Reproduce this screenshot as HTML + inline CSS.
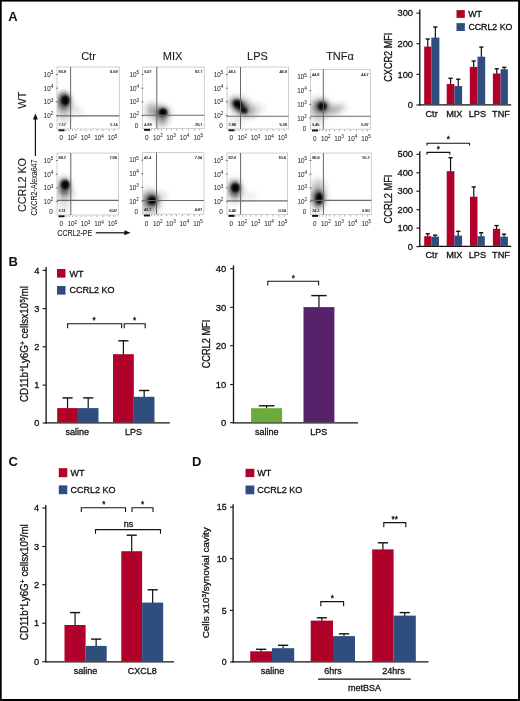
<!DOCTYPE html><html><head><meta charset="utf-8"><style>html,body{margin:0;padding:0;background:#fff;}body{width:520px;height:701px;overflow:hidden;}svg{display:block;}text{font-family:"Liberation Sans",sans-serif;}svg{will-change:transform;}</style></head><body>
<svg width="520" height="701" viewBox="0 0 520 701">
<defs><filter id="b1" x="-80%" y="-80%" width="260%" height="260%"><feGaussianBlur stdDeviation="1.3"/></filter><filter id="b2" x="-80%" y="-80%" width="260%" height="260%"><feGaussianBlur stdDeviation="2.2"/></filter><filter id="b3" x="-80%" y="-80%" width="260%" height="260%"><feGaussianBlur stdDeviation="3.2"/></filter></defs>
<rect x="0" y="0" width="520" height="701" fill="#fff"/>
<text x="8.3" y="21" font-size="13" font-weight="bold" fill="#111">A</text>
<text x="88.5" y="60" font-size="11" text-anchor="middle" fill="#1a1a1a" stroke="#1a1a1a" stroke-width="0.1">Ctr</text>
<text x="172.5" y="60" font-size="11" text-anchor="middle" fill="#1a1a1a" stroke="#1a1a1a" stroke-width="0.1">MIX</text>
<text x="257.5" y="60" font-size="11" text-anchor="middle" fill="#1a1a1a" stroke="#1a1a1a" stroke-width="0.1">LPS</text>
<text x="340" y="60" font-size="11" text-anchor="middle" fill="#1a1a1a" stroke="#1a1a1a" stroke-width="0.1">TNF&#945;</text>
<clipPath id="c1"><rect x="57" y="67" width="62.3" height="62"/></clipPath>
<g clip-path="url(#c1)">
<ellipse cx="64" cy="105" rx="8" ry="13" transform="rotate(0 64 105)" fill="#000" fill-opacity="0.25" filter="url(#b3)"/>
<ellipse cx="64" cy="101" rx="6.5" ry="9" transform="rotate(0 64 101)" fill="#000" fill-opacity="0.5" filter="url(#b2)"/>
<ellipse cx="65.3" cy="100.4" rx="4.2" ry="5" transform="rotate(0 65.3 100.4)" fill="#000" fill-opacity="0.95" filter="url(#b1)"/>
<ellipse cx="77" cy="110.5" rx="7" ry="3" transform="rotate(25 77 110.5)" fill="#000" fill-opacity="0.14" filter="url(#b3)"/>
<ellipse cx="64" cy="120" rx="6" ry="5" transform="rotate(0 64 120)" fill="#000" fill-opacity="0.08" filter="url(#b3)"/>
</g>
<rect x="57" y="67" width="62.3" height="62" fill="none" stroke="#c4c4c4" stroke-width="0.8"/>
<line x1="70.6" y1="67" x2="70.6" y2="129" stroke="#666" stroke-width="1.0"/>
<line x1="57" y1="115.9" x2="119.3" y2="115.9" stroke="#6a6a6a" stroke-width="1.1"/>
<line x1="55.8" y1="74.5" x2="57.8" y2="74.5" stroke="#555" stroke-width="0.8"/>
<line x1="55.8" y1="88.2" x2="57.8" y2="88.2" stroke="#555" stroke-width="0.8"/>
<line x1="55.8" y1="101.9" x2="57.8" y2="101.9" stroke="#555" stroke-width="0.8"/>
<line x1="55.8" y1="115.6" x2="57.8" y2="115.6" stroke="#555" stroke-width="0.8"/>
<line x1="58.5" y1="130.3" x2="64.5" y2="130.3" stroke="#111" stroke-width="1.9"/>
<line x1="66" y1="129.6" x2="66" y2="130.9" stroke="#888" stroke-width="0.8"/>
<line x1="69" y1="129.6" x2="69" y2="130.9" stroke="#888" stroke-width="0.8"/>
<line x1="72.5" y1="129.6" x2="72.5" y2="130.9" stroke="#888" stroke-width="0.8"/>
<line x1="76" y1="129.6" x2="76" y2="130.9" stroke="#888" stroke-width="0.8"/>
<line x1="81" y1="129.6" x2="81" y2="130.9" stroke="#888" stroke-width="0.8"/>
<line x1="86" y1="129.6" x2="86" y2="130.9" stroke="#888" stroke-width="0.8"/>
<line x1="91" y1="129.6" x2="91" y2="130.9" stroke="#888" stroke-width="0.8"/>
<line x1="97" y1="129.6" x2="97" y2="130.9" stroke="#888" stroke-width="0.8"/>
<line x1="103" y1="129.6" x2="103" y2="130.9" stroke="#888" stroke-width="0.8"/>
<line x1="109" y1="129.6" x2="109" y2="130.9" stroke="#888" stroke-width="0.8"/>
<line x1="114" y1="129.6" x2="114" y2="130.9" stroke="#888" stroke-width="0.8"/>
<text x="53.4" y="76.8" font-size="6.35" text-anchor="end" fill="#2a2a2a" stroke="#2a2a2a" stroke-width="0.04">10<tspan dy="-2.8" font-size="4.57">5</tspan></text>
<text x="53.4" y="90.6" font-size="6.35" text-anchor="end" fill="#2a2a2a" stroke="#2a2a2a" stroke-width="0.04">10<tspan dy="-2.8" font-size="4.57">4</tspan></text>
<text x="53.4" y="104.39999999999999" font-size="6.35" text-anchor="end" fill="#2a2a2a" stroke="#2a2a2a" stroke-width="0.04">10<tspan dy="-2.8" font-size="4.57">3</tspan></text>
<text x="53.4" y="118.2" font-size="6.35" text-anchor="end" fill="#2a2a2a" stroke="#2a2a2a" stroke-width="0.04">10<tspan dy="-2.8" font-size="4.57">2</tspan></text>
<text x="52.7" y="128.3" font-size="6.35" text-anchor="end" fill="#2a2a2a" stroke="#2a2a2a" stroke-width="0.04">0</text>
<text x="61.2" y="140.3" font-size="6.35" text-anchor="middle" fill="#2a2a2a" stroke="#2a2a2a" stroke-width="0.04">0</text>
<text x="72.3" y="140.3" font-size="6.35" text-anchor="middle" fill="#2a2a2a" stroke="#2a2a2a" stroke-width="0.04">10<tspan dy="-2.8" font-size="4.57">2</tspan></text>
<text x="85.5" y="140.3" font-size="6.35" text-anchor="middle" fill="#2a2a2a" stroke="#2a2a2a" stroke-width="0.04">10<tspan dy="-2.8" font-size="4.57">3</tspan></text>
<text x="99.0" y="140.3" font-size="6.35" text-anchor="middle" fill="#2a2a2a" stroke="#2a2a2a" stroke-width="0.04">10<tspan dy="-2.8" font-size="4.57">4</tspan></text>
<text x="112.6" y="140.3" font-size="6.35" text-anchor="middle" fill="#2a2a2a" stroke="#2a2a2a" stroke-width="0.04">10<tspan dy="-2.8" font-size="4.57">5</tspan></text>
<text x="58.6" y="73.2" font-size="3.8" fill="#222" stroke="#222" stroke-width="0.15">93.9</text>
<text x="117.5" y="73.2" font-size="3.8" text-anchor="end" fill="#222" stroke="#222" stroke-width="0.15">0.59</text>
<text x="58.6" y="126.0" font-size="3.8" fill="#222" stroke="#222" stroke-width="0.15">7.17</text>
<text x="117.5" y="126.0" font-size="3.8" text-anchor="end" fill="#222" stroke="#222" stroke-width="0.15">1.14</text>
<clipPath id="c2"><rect x="57" y="153" width="61.599999999999994" height="62"/></clipPath>
<g clip-path="url(#c2)">
<ellipse cx="64" cy="190" rx="7" ry="13" transform="rotate(0 64 190)" fill="#000" fill-opacity="0.26" filter="url(#b3)"/>
<ellipse cx="64.5" cy="187" rx="5.5" ry="8.5" transform="rotate(0 64.5 187)" fill="#000" fill-opacity="0.5" filter="url(#b2)"/>
<ellipse cx="65.3" cy="184.8" rx="4.2" ry="4.6" transform="rotate(0 65.3 184.8)" fill="#000" fill-opacity="0.95" filter="url(#b1)"/>
<ellipse cx="72" cy="194" rx="2.5" ry="5" transform="rotate(0 72 194)" fill="#000" fill-opacity="0.12" filter="url(#b3)"/>
<ellipse cx="64" cy="207" rx="6" ry="5" transform="rotate(0 64 207)" fill="#000" fill-opacity="0.08" filter="url(#b3)"/>
</g>
<rect x="57" y="153" width="61.599999999999994" height="62" fill="none" stroke="#c4c4c4" stroke-width="0.8"/>
<line x1="70.8" y1="153" x2="70.8" y2="215" stroke="#666" stroke-width="1.0"/>
<line x1="57" y1="200.4" x2="118.6" y2="200.4" stroke="#6a6a6a" stroke-width="1.1"/>
<line x1="55.8" y1="160.5" x2="57.8" y2="160.5" stroke="#555" stroke-width="0.8"/>
<line x1="55.8" y1="174.2" x2="57.8" y2="174.2" stroke="#555" stroke-width="0.8"/>
<line x1="55.8" y1="187.9" x2="57.8" y2="187.9" stroke="#555" stroke-width="0.8"/>
<line x1="55.8" y1="201.6" x2="57.8" y2="201.6" stroke="#555" stroke-width="0.8"/>
<line x1="58.5" y1="216.3" x2="64.5" y2="216.3" stroke="#111" stroke-width="1.9"/>
<line x1="66" y1="215.6" x2="66" y2="216.9" stroke="#888" stroke-width="0.8"/>
<line x1="69" y1="215.6" x2="69" y2="216.9" stroke="#888" stroke-width="0.8"/>
<line x1="72.5" y1="215.6" x2="72.5" y2="216.9" stroke="#888" stroke-width="0.8"/>
<line x1="76" y1="215.6" x2="76" y2="216.9" stroke="#888" stroke-width="0.8"/>
<line x1="81" y1="215.6" x2="81" y2="216.9" stroke="#888" stroke-width="0.8"/>
<line x1="86" y1="215.6" x2="86" y2="216.9" stroke="#888" stroke-width="0.8"/>
<line x1="91" y1="215.6" x2="91" y2="216.9" stroke="#888" stroke-width="0.8"/>
<line x1="97" y1="215.6" x2="97" y2="216.9" stroke="#888" stroke-width="0.8"/>
<line x1="103" y1="215.6" x2="103" y2="216.9" stroke="#888" stroke-width="0.8"/>
<line x1="109" y1="215.6" x2="109" y2="216.9" stroke="#888" stroke-width="0.8"/>
<line x1="114" y1="215.6" x2="114" y2="216.9" stroke="#888" stroke-width="0.8"/>
<text x="53.4" y="162.8" font-size="6.35" text-anchor="end" fill="#2a2a2a" stroke="#2a2a2a" stroke-width="0.04">10<tspan dy="-2.8" font-size="4.57">5</tspan></text>
<text x="53.4" y="176.60000000000002" font-size="6.35" text-anchor="end" fill="#2a2a2a" stroke="#2a2a2a" stroke-width="0.04">10<tspan dy="-2.8" font-size="4.57">4</tspan></text>
<text x="53.4" y="190.4" font-size="6.35" text-anchor="end" fill="#2a2a2a" stroke="#2a2a2a" stroke-width="0.04">10<tspan dy="-2.8" font-size="4.57">3</tspan></text>
<text x="53.4" y="204.20000000000002" font-size="6.35" text-anchor="end" fill="#2a2a2a" stroke="#2a2a2a" stroke-width="0.04">10<tspan dy="-2.8" font-size="4.57">2</tspan></text>
<text x="52.7" y="214.3" font-size="6.35" text-anchor="end" fill="#2a2a2a" stroke="#2a2a2a" stroke-width="0.04">0</text>
<text x="61.2" y="226.3" font-size="6.35" text-anchor="middle" fill="#2a2a2a" stroke="#2a2a2a" stroke-width="0.04">0</text>
<text x="72.3" y="226.3" font-size="6.35" text-anchor="middle" fill="#2a2a2a" stroke="#2a2a2a" stroke-width="0.04">10<tspan dy="-2.8" font-size="4.57">2</tspan></text>
<text x="85.5" y="226.3" font-size="6.35" text-anchor="middle" fill="#2a2a2a" stroke="#2a2a2a" stroke-width="0.04">10<tspan dy="-2.8" font-size="4.57">3</tspan></text>
<text x="99.0" y="226.3" font-size="6.35" text-anchor="middle" fill="#2a2a2a" stroke="#2a2a2a" stroke-width="0.04">10<tspan dy="-2.8" font-size="4.57">4</tspan></text>
<text x="112.6" y="226.3" font-size="6.35" text-anchor="middle" fill="#2a2a2a" stroke="#2a2a2a" stroke-width="0.04">10<tspan dy="-2.8" font-size="4.57">5</tspan></text>
<text x="58.6" y="159.2" font-size="3.8" fill="#222" stroke="#222" stroke-width="0.15">88.2</text>
<text x="116.8" y="159.2" font-size="3.8" text-anchor="end" fill="#222" stroke="#222" stroke-width="0.15">7.89</text>
<text x="58.6" y="212.0" font-size="3.8" fill="#222" stroke="#222" stroke-width="0.15">3.11</text>
<text x="116.8" y="212.0" font-size="3.8" text-anchor="end" fill="#222" stroke="#222" stroke-width="0.15">6.02</text>
<clipPath id="c3"><rect x="142.6" y="67" width="61.70000000000002" height="61.599999999999994"/></clipPath>
<g clip-path="url(#c3)">
<ellipse cx="161" cy="114" rx="10" ry="10" transform="rotate(0 161 114)" fill="#000" fill-opacity="0.15" filter="url(#b3)"/>
<ellipse cx="162.3" cy="112.8" rx="6.5" ry="6" transform="rotate(0 162.3 112.8)" fill="#000" fill-opacity="0.5" filter="url(#b2)"/>
<ellipse cx="163" cy="112.3" rx="4" ry="3.8" transform="rotate(0 163 112.3)" fill="#000" fill-opacity="0.95" filter="url(#b1)"/>
<ellipse cx="151.5" cy="110" rx="5.5" ry="7" transform="rotate(0 151.5 110)" fill="#000" fill-opacity="0.32" filter="url(#b3)"/>
<ellipse cx="162" cy="120.5" rx="5" ry="6" transform="rotate(0 162 120.5)" fill="#000" fill-opacity="0.3" filter="url(#b3)"/>
</g>
<rect x="142.6" y="67" width="61.70000000000002" height="61.599999999999994" fill="none" stroke="#c4c4c4" stroke-width="0.8"/>
<line x1="156.8" y1="67" x2="156.8" y2="128.6" stroke="#666" stroke-width="1.0"/>
<line x1="142.6" y1="115.3" x2="204.3" y2="115.3" stroke="#6a6a6a" stroke-width="1.1"/>
<line x1="141.4" y1="74.5" x2="143.4" y2="74.5" stroke="#555" stroke-width="0.8"/>
<line x1="141.4" y1="88.2" x2="143.4" y2="88.2" stroke="#555" stroke-width="0.8"/>
<line x1="141.4" y1="101.9" x2="143.4" y2="101.9" stroke="#555" stroke-width="0.8"/>
<line x1="141.4" y1="115.6" x2="143.4" y2="115.6" stroke="#555" stroke-width="0.8"/>
<line x1="144.1" y1="129.9" x2="150.1" y2="129.9" stroke="#111" stroke-width="1.9"/>
<line x1="151.6" y1="129.2" x2="151.6" y2="130.5" stroke="#888" stroke-width="0.8"/>
<line x1="154.6" y1="129.2" x2="154.6" y2="130.5" stroke="#888" stroke-width="0.8"/>
<line x1="158.1" y1="129.2" x2="158.1" y2="130.5" stroke="#888" stroke-width="0.8"/>
<line x1="161.6" y1="129.2" x2="161.6" y2="130.5" stroke="#888" stroke-width="0.8"/>
<line x1="166.6" y1="129.2" x2="166.6" y2="130.5" stroke="#888" stroke-width="0.8"/>
<line x1="171.6" y1="129.2" x2="171.6" y2="130.5" stroke="#888" stroke-width="0.8"/>
<line x1="176.6" y1="129.2" x2="176.6" y2="130.5" stroke="#888" stroke-width="0.8"/>
<line x1="182.6" y1="129.2" x2="182.6" y2="130.5" stroke="#888" stroke-width="0.8"/>
<line x1="188.6" y1="129.2" x2="188.6" y2="130.5" stroke="#888" stroke-width="0.8"/>
<line x1="194.6" y1="129.2" x2="194.6" y2="130.5" stroke="#888" stroke-width="0.8"/>
<line x1="199.6" y1="129.2" x2="199.6" y2="130.5" stroke="#888" stroke-width="0.8"/>
<text x="139.0" y="76.8" font-size="6.35" text-anchor="end" fill="#2a2a2a" stroke="#2a2a2a" stroke-width="0.04">10<tspan dy="-2.8" font-size="4.57">5</tspan></text>
<text x="139.0" y="90.6" font-size="6.35" text-anchor="end" fill="#2a2a2a" stroke="#2a2a2a" stroke-width="0.04">10<tspan dy="-2.8" font-size="4.57">4</tspan></text>
<text x="139.0" y="104.39999999999999" font-size="6.35" text-anchor="end" fill="#2a2a2a" stroke="#2a2a2a" stroke-width="0.04">10<tspan dy="-2.8" font-size="4.57">3</tspan></text>
<text x="139.0" y="118.2" font-size="6.35" text-anchor="end" fill="#2a2a2a" stroke="#2a2a2a" stroke-width="0.04">10<tspan dy="-2.8" font-size="4.57">2</tspan></text>
<text x="138.29999999999998" y="128.3" font-size="6.35" text-anchor="end" fill="#2a2a2a" stroke="#2a2a2a" stroke-width="0.04">0</text>
<text x="146.79999999999998" y="139.9" font-size="6.35" text-anchor="middle" fill="#2a2a2a" stroke="#2a2a2a" stroke-width="0.04">0</text>
<text x="157.9" y="139.9" font-size="6.35" text-anchor="middle" fill="#2a2a2a" stroke="#2a2a2a" stroke-width="0.04">10<tspan dy="-2.8" font-size="4.57">2</tspan></text>
<text x="171.1" y="139.9" font-size="6.35" text-anchor="middle" fill="#2a2a2a" stroke="#2a2a2a" stroke-width="0.04">10<tspan dy="-2.8" font-size="4.57">3</tspan></text>
<text x="184.6" y="139.9" font-size="6.35" text-anchor="middle" fill="#2a2a2a" stroke="#2a2a2a" stroke-width="0.04">10<tspan dy="-2.8" font-size="4.57">4</tspan></text>
<text x="198.2" y="139.9" font-size="6.35" text-anchor="middle" fill="#2a2a2a" stroke="#2a2a2a" stroke-width="0.04">10<tspan dy="-2.8" font-size="4.57">5</tspan></text>
<text x="144.2" y="73.2" font-size="3.8" fill="#222" stroke="#222" stroke-width="0.15">5.07</text>
<text x="202.5" y="73.2" font-size="3.8" text-anchor="end" fill="#222" stroke="#222" stroke-width="0.15">92.7</text>
<text x="144.2" y="125.6" font-size="3.8" fill="#222" stroke="#222" stroke-width="0.15">4.89</text>
<text x="202.5" y="125.6" font-size="3.8" text-anchor="end" fill="#222" stroke="#222" stroke-width="0.15">20.1</text>
<clipPath id="c4"><rect x="142.4" y="152.6" width="61.5" height="61.599999999999994"/></clipPath>
<g clip-path="url(#c4)">
<ellipse cx="150" cy="202" rx="10" ry="13" transform="rotate(0 150 202)" fill="#000" fill-opacity="0.28" filter="url(#b3)"/>
<ellipse cx="151.5" cy="200.5" rx="7" ry="7" transform="rotate(0 151.5 200.5)" fill="#000" fill-opacity="0.5" filter="url(#b2)"/>
<ellipse cx="152.2" cy="200.4" rx="4.2" ry="4.2" transform="rotate(0 152.2 200.4)" fill="#000" fill-opacity="0.95" filter="url(#b1)"/>
<ellipse cx="162" cy="196.5" rx="6" ry="3.5" transform="rotate(0 162 196.5)" fill="#000" fill-opacity="0.14" filter="url(#b3)"/>
</g>
<rect x="142.4" y="152.6" width="61.5" height="61.599999999999994" fill="none" stroke="#c4c4c4" stroke-width="0.8"/>
<line x1="156.5" y1="152.6" x2="156.5" y2="214.2" stroke="#666" stroke-width="1.0"/>
<line x1="142.4" y1="200.5" x2="203.9" y2="200.5" stroke="#6a6a6a" stroke-width="1.1"/>
<line x1="141.20000000000002" y1="160.1" x2="143.20000000000002" y2="160.1" stroke="#555" stroke-width="0.8"/>
<line x1="141.20000000000002" y1="173.79999999999998" x2="143.20000000000002" y2="173.79999999999998" stroke="#555" stroke-width="0.8"/>
<line x1="141.20000000000002" y1="187.5" x2="143.20000000000002" y2="187.5" stroke="#555" stroke-width="0.8"/>
<line x1="141.20000000000002" y1="201.2" x2="143.20000000000002" y2="201.2" stroke="#555" stroke-width="0.8"/>
<line x1="143.9" y1="215.5" x2="149.9" y2="215.5" stroke="#111" stroke-width="1.9"/>
<line x1="151.4" y1="214.79999999999998" x2="151.4" y2="216.1" stroke="#888" stroke-width="0.8"/>
<line x1="154.4" y1="214.79999999999998" x2="154.4" y2="216.1" stroke="#888" stroke-width="0.8"/>
<line x1="157.9" y1="214.79999999999998" x2="157.9" y2="216.1" stroke="#888" stroke-width="0.8"/>
<line x1="161.4" y1="214.79999999999998" x2="161.4" y2="216.1" stroke="#888" stroke-width="0.8"/>
<line x1="166.4" y1="214.79999999999998" x2="166.4" y2="216.1" stroke="#888" stroke-width="0.8"/>
<line x1="171.4" y1="214.79999999999998" x2="171.4" y2="216.1" stroke="#888" stroke-width="0.8"/>
<line x1="176.4" y1="214.79999999999998" x2="176.4" y2="216.1" stroke="#888" stroke-width="0.8"/>
<line x1="182.4" y1="214.79999999999998" x2="182.4" y2="216.1" stroke="#888" stroke-width="0.8"/>
<line x1="188.4" y1="214.79999999999998" x2="188.4" y2="216.1" stroke="#888" stroke-width="0.8"/>
<line x1="194.4" y1="214.79999999999998" x2="194.4" y2="216.1" stroke="#888" stroke-width="0.8"/>
<line x1="199.4" y1="214.79999999999998" x2="199.4" y2="216.1" stroke="#888" stroke-width="0.8"/>
<text x="138.8" y="162.4" font-size="6.35" text-anchor="end" fill="#2a2a2a" stroke="#2a2a2a" stroke-width="0.04">10<tspan dy="-2.8" font-size="4.57">5</tspan></text>
<text x="138.8" y="176.20000000000002" font-size="6.35" text-anchor="end" fill="#2a2a2a" stroke="#2a2a2a" stroke-width="0.04">10<tspan dy="-2.8" font-size="4.57">4</tspan></text>
<text x="138.8" y="190.0" font-size="6.35" text-anchor="end" fill="#2a2a2a" stroke="#2a2a2a" stroke-width="0.04">10<tspan dy="-2.8" font-size="4.57">3</tspan></text>
<text x="138.8" y="203.8" font-size="6.35" text-anchor="end" fill="#2a2a2a" stroke="#2a2a2a" stroke-width="0.04">10<tspan dy="-2.8" font-size="4.57">2</tspan></text>
<text x="138.1" y="213.9" font-size="6.35" text-anchor="end" fill="#2a2a2a" stroke="#2a2a2a" stroke-width="0.04">0</text>
<text x="146.6" y="225.5" font-size="6.35" text-anchor="middle" fill="#2a2a2a" stroke="#2a2a2a" stroke-width="0.04">0</text>
<text x="157.70000000000002" y="225.5" font-size="6.35" text-anchor="middle" fill="#2a2a2a" stroke="#2a2a2a" stroke-width="0.04">10<tspan dy="-2.8" font-size="4.57">2</tspan></text>
<text x="170.9" y="225.5" font-size="6.35" text-anchor="middle" fill="#2a2a2a" stroke="#2a2a2a" stroke-width="0.04">10<tspan dy="-2.8" font-size="4.57">3</tspan></text>
<text x="184.4" y="225.5" font-size="6.35" text-anchor="middle" fill="#2a2a2a" stroke="#2a2a2a" stroke-width="0.04">10<tspan dy="-2.8" font-size="4.57">4</tspan></text>
<text x="198.0" y="225.5" font-size="6.35" text-anchor="middle" fill="#2a2a2a" stroke="#2a2a2a" stroke-width="0.04">10<tspan dy="-2.8" font-size="4.57">5</tspan></text>
<text x="144.0" y="158.79999999999998" font-size="3.8" fill="#222" stroke="#222" stroke-width="0.15">42.4</text>
<text x="202.1" y="158.79999999999998" font-size="3.8" text-anchor="end" fill="#222" stroke="#222" stroke-width="0.15">7.34</text>
<text x="144.0" y="211.2" font-size="3.8" fill="#222" stroke="#222" stroke-width="0.15">43.7</text>
<text x="202.1" y="211.2" font-size="3.8" text-anchor="end" fill="#222" stroke="#222" stroke-width="0.15">4.97</text>
<clipPath id="c5"><rect x="227" y="67" width="61.60000000000002" height="62"/></clipPath>
<g clip-path="url(#c5)">
<ellipse cx="242" cy="107" rx="15" ry="8.5" transform="rotate(32 242 107)" fill="#000" fill-opacity="0.28" filter="url(#b3)"/>
<ellipse cx="240" cy="106.5" rx="9.5" ry="5.5" transform="rotate(38 240 106.5)" fill="#000" fill-opacity="0.6" filter="url(#b2)"/>
<ellipse cx="238" cy="104.3" rx="5" ry="3.8" transform="rotate(35 238 104.3)" fill="#000" fill-opacity="0.95" filter="url(#b1)"/>
<ellipse cx="243.8" cy="110.3" rx="3.6" ry="2.8" transform="rotate(38 243.8 110.3)" fill="#000" fill-opacity="0.85" filter="url(#b1)"/>
<ellipse cx="257" cy="109" rx="8" ry="3.5" transform="rotate(-10 257 109)" fill="#000" fill-opacity="0.14" filter="url(#b3)"/>
<ellipse cx="236" cy="122" rx="8" ry="6" transform="rotate(0 236 122)" fill="#000" fill-opacity="0.08" filter="url(#b3)"/>
</g>
<rect x="227" y="67" width="61.60000000000002" height="62" fill="none" stroke="#c4c4c4" stroke-width="0.8"/>
<line x1="240.5" y1="67" x2="240.5" y2="129" stroke="#666" stroke-width="1.0"/>
<line x1="227" y1="116.2" x2="288.6" y2="116.2" stroke="#6a6a6a" stroke-width="1.1"/>
<line x1="225.8" y1="74.5" x2="227.8" y2="74.5" stroke="#555" stroke-width="0.8"/>
<line x1="225.8" y1="88.2" x2="227.8" y2="88.2" stroke="#555" stroke-width="0.8"/>
<line x1="225.8" y1="101.9" x2="227.8" y2="101.9" stroke="#555" stroke-width="0.8"/>
<line x1="225.8" y1="115.6" x2="227.8" y2="115.6" stroke="#555" stroke-width="0.8"/>
<line x1="228.5" y1="130.3" x2="234.5" y2="130.3" stroke="#111" stroke-width="1.9"/>
<line x1="236" y1="129.6" x2="236" y2="130.9" stroke="#888" stroke-width="0.8"/>
<line x1="239" y1="129.6" x2="239" y2="130.9" stroke="#888" stroke-width="0.8"/>
<line x1="242.5" y1="129.6" x2="242.5" y2="130.9" stroke="#888" stroke-width="0.8"/>
<line x1="246" y1="129.6" x2="246" y2="130.9" stroke="#888" stroke-width="0.8"/>
<line x1="251" y1="129.6" x2="251" y2="130.9" stroke="#888" stroke-width="0.8"/>
<line x1="256" y1="129.6" x2="256" y2="130.9" stroke="#888" stroke-width="0.8"/>
<line x1="261" y1="129.6" x2="261" y2="130.9" stroke="#888" stroke-width="0.8"/>
<line x1="267" y1="129.6" x2="267" y2="130.9" stroke="#888" stroke-width="0.8"/>
<line x1="273" y1="129.6" x2="273" y2="130.9" stroke="#888" stroke-width="0.8"/>
<line x1="279" y1="129.6" x2="279" y2="130.9" stroke="#888" stroke-width="0.8"/>
<line x1="284" y1="129.6" x2="284" y2="130.9" stroke="#888" stroke-width="0.8"/>
<text x="223.4" y="76.8" font-size="6.35" text-anchor="end" fill="#2a2a2a" stroke="#2a2a2a" stroke-width="0.04">10<tspan dy="-2.8" font-size="4.57">5</tspan></text>
<text x="223.4" y="90.6" font-size="6.35" text-anchor="end" fill="#2a2a2a" stroke="#2a2a2a" stroke-width="0.04">10<tspan dy="-2.8" font-size="4.57">4</tspan></text>
<text x="223.4" y="104.39999999999999" font-size="6.35" text-anchor="end" fill="#2a2a2a" stroke="#2a2a2a" stroke-width="0.04">10<tspan dy="-2.8" font-size="4.57">3</tspan></text>
<text x="223.4" y="118.2" font-size="6.35" text-anchor="end" fill="#2a2a2a" stroke="#2a2a2a" stroke-width="0.04">10<tspan dy="-2.8" font-size="4.57">2</tspan></text>
<text x="222.7" y="128.3" font-size="6.35" text-anchor="end" fill="#2a2a2a" stroke="#2a2a2a" stroke-width="0.04">0</text>
<text x="231.2" y="140.3" font-size="6.35" text-anchor="middle" fill="#2a2a2a" stroke="#2a2a2a" stroke-width="0.04">0</text>
<text x="242.3" y="140.3" font-size="6.35" text-anchor="middle" fill="#2a2a2a" stroke="#2a2a2a" stroke-width="0.04">10<tspan dy="-2.8" font-size="4.57">2</tspan></text>
<text x="255.5" y="140.3" font-size="6.35" text-anchor="middle" fill="#2a2a2a" stroke="#2a2a2a" stroke-width="0.04">10<tspan dy="-2.8" font-size="4.57">3</tspan></text>
<text x="269.0" y="140.3" font-size="6.35" text-anchor="middle" fill="#2a2a2a" stroke="#2a2a2a" stroke-width="0.04">10<tspan dy="-2.8" font-size="4.57">4</tspan></text>
<text x="282.6" y="140.3" font-size="6.35" text-anchor="middle" fill="#2a2a2a" stroke="#2a2a2a" stroke-width="0.04">10<tspan dy="-2.8" font-size="4.57">5</tspan></text>
<text x="228.6" y="73.2" font-size="3.8" fill="#222" stroke="#222" stroke-width="0.15">46.1</text>
<text x="286.8" y="73.2" font-size="3.8" text-anchor="end" fill="#222" stroke="#222" stroke-width="0.15">46.8</text>
<text x="228.6" y="126.0" font-size="3.8" fill="#222" stroke="#222" stroke-width="0.15">2.96</text>
<text x="286.8" y="126.0" font-size="3.8" text-anchor="end" fill="#222" stroke="#222" stroke-width="0.15">5.39</text>
<clipPath id="c6"><rect x="227" y="153" width="60.60000000000002" height="61.599999999999994"/></clipPath>
<g clip-path="url(#c6)">
<ellipse cx="235" cy="191" rx="8" ry="12" transform="rotate(0 235 191)" fill="#000" fill-opacity="0.24" filter="url(#b3)"/>
<ellipse cx="234.8" cy="189" rx="6" ry="8" transform="rotate(0 234.8 189)" fill="#000" fill-opacity="0.5" filter="url(#b2)"/>
<ellipse cx="235.4" cy="187.8" rx="4.2" ry="4.6" transform="rotate(0 235.4 187.8)" fill="#000" fill-opacity="0.95" filter="url(#b1)"/>
<ellipse cx="251" cy="196" rx="6" ry="3" transform="rotate(0 251 196)" fill="#000" fill-opacity="0.1" filter="url(#b3)"/>
</g>
<rect x="227" y="153" width="60.60000000000002" height="61.599999999999994" fill="none" stroke="#c4c4c4" stroke-width="0.8"/>
<line x1="240.6" y1="153" x2="240.6" y2="214.6" stroke="#666" stroke-width="1.0"/>
<line x1="227" y1="200.9" x2="287.6" y2="200.9" stroke="#6a6a6a" stroke-width="1.1"/>
<line x1="225.8" y1="160.5" x2="227.8" y2="160.5" stroke="#555" stroke-width="0.8"/>
<line x1="225.8" y1="174.2" x2="227.8" y2="174.2" stroke="#555" stroke-width="0.8"/>
<line x1="225.8" y1="187.9" x2="227.8" y2="187.9" stroke="#555" stroke-width="0.8"/>
<line x1="225.8" y1="201.6" x2="227.8" y2="201.6" stroke="#555" stroke-width="0.8"/>
<line x1="228.5" y1="215.9" x2="234.5" y2="215.9" stroke="#111" stroke-width="1.9"/>
<line x1="236" y1="215.2" x2="236" y2="216.5" stroke="#888" stroke-width="0.8"/>
<line x1="239" y1="215.2" x2="239" y2="216.5" stroke="#888" stroke-width="0.8"/>
<line x1="242.5" y1="215.2" x2="242.5" y2="216.5" stroke="#888" stroke-width="0.8"/>
<line x1="246" y1="215.2" x2="246" y2="216.5" stroke="#888" stroke-width="0.8"/>
<line x1="251" y1="215.2" x2="251" y2="216.5" stroke="#888" stroke-width="0.8"/>
<line x1="256" y1="215.2" x2="256" y2="216.5" stroke="#888" stroke-width="0.8"/>
<line x1="261" y1="215.2" x2="261" y2="216.5" stroke="#888" stroke-width="0.8"/>
<line x1="267" y1="215.2" x2="267" y2="216.5" stroke="#888" stroke-width="0.8"/>
<line x1="273" y1="215.2" x2="273" y2="216.5" stroke="#888" stroke-width="0.8"/>
<line x1="279" y1="215.2" x2="279" y2="216.5" stroke="#888" stroke-width="0.8"/>
<line x1="284" y1="215.2" x2="284" y2="216.5" stroke="#888" stroke-width="0.8"/>
<text x="223.4" y="162.8" font-size="6.35" text-anchor="end" fill="#2a2a2a" stroke="#2a2a2a" stroke-width="0.04">10<tspan dy="-2.8" font-size="4.57">5</tspan></text>
<text x="223.4" y="176.60000000000002" font-size="6.35" text-anchor="end" fill="#2a2a2a" stroke="#2a2a2a" stroke-width="0.04">10<tspan dy="-2.8" font-size="4.57">4</tspan></text>
<text x="223.4" y="190.4" font-size="6.35" text-anchor="end" fill="#2a2a2a" stroke="#2a2a2a" stroke-width="0.04">10<tspan dy="-2.8" font-size="4.57">3</tspan></text>
<text x="223.4" y="204.20000000000002" font-size="6.35" text-anchor="end" fill="#2a2a2a" stroke="#2a2a2a" stroke-width="0.04">10<tspan dy="-2.8" font-size="4.57">2</tspan></text>
<text x="222.7" y="214.3" font-size="6.35" text-anchor="end" fill="#2a2a2a" stroke="#2a2a2a" stroke-width="0.04">0</text>
<text x="231.2" y="225.9" font-size="6.35" text-anchor="middle" fill="#2a2a2a" stroke="#2a2a2a" stroke-width="0.04">0</text>
<text x="242.3" y="225.9" font-size="6.35" text-anchor="middle" fill="#2a2a2a" stroke="#2a2a2a" stroke-width="0.04">10<tspan dy="-2.8" font-size="4.57">2</tspan></text>
<text x="255.5" y="225.9" font-size="6.35" text-anchor="middle" fill="#2a2a2a" stroke="#2a2a2a" stroke-width="0.04">10<tspan dy="-2.8" font-size="4.57">3</tspan></text>
<text x="269.0" y="225.9" font-size="6.35" text-anchor="middle" fill="#2a2a2a" stroke="#2a2a2a" stroke-width="0.04">10<tspan dy="-2.8" font-size="4.57">4</tspan></text>
<text x="282.6" y="225.9" font-size="6.35" text-anchor="middle" fill="#2a2a2a" stroke="#2a2a2a" stroke-width="0.04">10<tspan dy="-2.8" font-size="4.57">5</tspan></text>
<text x="228.6" y="159.2" font-size="3.8" fill="#222" stroke="#222" stroke-width="0.15">82.0</text>
<text x="285.8" y="159.2" font-size="3.8" text-anchor="end" fill="#222" stroke="#222" stroke-width="0.15">10.6</text>
<text x="228.6" y="211.6" font-size="3.8" fill="#222" stroke="#222" stroke-width="0.15">3.46</text>
<text x="285.8" y="211.6" font-size="3.8" text-anchor="end" fill="#222" stroke="#222" stroke-width="0.15">0.34</text>
<clipPath id="c7"><rect x="310.5" y="69.5" width="60.0" height="59.69999999999999"/></clipPath>
<g clip-path="url(#c7)">
<ellipse cx="320" cy="108" rx="11" ry="10" transform="rotate(0 320 108)" fill="#000" fill-opacity="0.3" filter="url(#b3)"/>
<ellipse cx="321.5" cy="106.5" rx="6.5" ry="6" transform="rotate(0 321.5 106.5)" fill="#000" fill-opacity="0.55" filter="url(#b2)"/>
<ellipse cx="322.2" cy="106.2" rx="4" ry="3.8" transform="rotate(0 322.2 106.2)" fill="#000" fill-opacity="0.95" filter="url(#b1)"/>
<ellipse cx="337" cy="108.5" rx="9" ry="3.2" transform="rotate(-15 337 108.5)" fill="#000" fill-opacity="0.3" filter="url(#b3)"/>
<ellipse cx="333" cy="111" rx="6" ry="4" transform="rotate(0 333 111)" fill="#000" fill-opacity="0.15" filter="url(#b3)"/>
<ellipse cx="318" cy="121" rx="6" ry="6" transform="rotate(0 318 121)" fill="#000" fill-opacity="0.08" filter="url(#b3)"/>
</g>
<rect x="310.5" y="69.5" width="60.0" height="59.69999999999999" fill="none" stroke="#c4c4c4" stroke-width="0.8"/>
<line x1="323.3" y1="69.5" x2="323.3" y2="129.2" stroke="#666" stroke-width="1.0"/>
<line x1="310.5" y1="116.3" x2="370.5" y2="116.3" stroke="#6a6a6a" stroke-width="1.1"/>
<line x1="309.3" y1="77.0" x2="311.3" y2="77.0" stroke="#555" stroke-width="0.8"/>
<line x1="309.3" y1="90.7" x2="311.3" y2="90.7" stroke="#555" stroke-width="0.8"/>
<line x1="309.3" y1="104.4" x2="311.3" y2="104.4" stroke="#555" stroke-width="0.8"/>
<line x1="309.3" y1="118.1" x2="311.3" y2="118.1" stroke="#555" stroke-width="0.8"/>
<line x1="312.0" y1="130.5" x2="318.0" y2="130.5" stroke="#111" stroke-width="1.9"/>
<line x1="319.5" y1="129.79999999999998" x2="319.5" y2="131.1" stroke="#888" stroke-width="0.8"/>
<line x1="322.5" y1="129.79999999999998" x2="322.5" y2="131.1" stroke="#888" stroke-width="0.8"/>
<line x1="326.0" y1="129.79999999999998" x2="326.0" y2="131.1" stroke="#888" stroke-width="0.8"/>
<line x1="329.5" y1="129.79999999999998" x2="329.5" y2="131.1" stroke="#888" stroke-width="0.8"/>
<line x1="334.5" y1="129.79999999999998" x2="334.5" y2="131.1" stroke="#888" stroke-width="0.8"/>
<line x1="339.5" y1="129.79999999999998" x2="339.5" y2="131.1" stroke="#888" stroke-width="0.8"/>
<line x1="344.5" y1="129.79999999999998" x2="344.5" y2="131.1" stroke="#888" stroke-width="0.8"/>
<line x1="350.5" y1="129.79999999999998" x2="350.5" y2="131.1" stroke="#888" stroke-width="0.8"/>
<line x1="356.5" y1="129.79999999999998" x2="356.5" y2="131.1" stroke="#888" stroke-width="0.8"/>
<line x1="362.5" y1="129.79999999999998" x2="362.5" y2="131.1" stroke="#888" stroke-width="0.8"/>
<line x1="367.5" y1="129.79999999999998" x2="367.5" y2="131.1" stroke="#888" stroke-width="0.8"/>
<text x="306.9" y="79.3" font-size="6.35" text-anchor="end" fill="#2a2a2a" stroke="#2a2a2a" stroke-width="0.04">10<tspan dy="-2.8" font-size="4.57">5</tspan></text>
<text x="306.9" y="93.1" font-size="6.35" text-anchor="end" fill="#2a2a2a" stroke="#2a2a2a" stroke-width="0.04">10<tspan dy="-2.8" font-size="4.57">4</tspan></text>
<text x="306.9" y="106.89999999999999" font-size="6.35" text-anchor="end" fill="#2a2a2a" stroke="#2a2a2a" stroke-width="0.04">10<tspan dy="-2.8" font-size="4.57">3</tspan></text>
<text x="306.9" y="120.7" font-size="6.35" text-anchor="end" fill="#2a2a2a" stroke="#2a2a2a" stroke-width="0.04">10<tspan dy="-2.8" font-size="4.57">2</tspan></text>
<text x="306.2" y="130.8" font-size="6.35" text-anchor="end" fill="#2a2a2a" stroke="#2a2a2a" stroke-width="0.04">0</text>
<text x="314.7" y="140.5" font-size="6.35" text-anchor="middle" fill="#2a2a2a" stroke="#2a2a2a" stroke-width="0.04">0</text>
<text x="325.8" y="140.5" font-size="6.35" text-anchor="middle" fill="#2a2a2a" stroke="#2a2a2a" stroke-width="0.04">10<tspan dy="-2.8" font-size="4.57">2</tspan></text>
<text x="339.0" y="140.5" font-size="6.35" text-anchor="middle" fill="#2a2a2a" stroke="#2a2a2a" stroke-width="0.04">10<tspan dy="-2.8" font-size="4.57">3</tspan></text>
<text x="352.5" y="140.5" font-size="6.35" text-anchor="middle" fill="#2a2a2a" stroke="#2a2a2a" stroke-width="0.04">10<tspan dy="-2.8" font-size="4.57">4</tspan></text>
<text x="366.1" y="140.5" font-size="6.35" text-anchor="middle" fill="#2a2a2a" stroke="#2a2a2a" stroke-width="0.04">10<tspan dy="-2.8" font-size="4.57">5</tspan></text>
<text x="312.1" y="75.7" font-size="3.8" fill="#222" stroke="#222" stroke-width="0.15">44.8</text>
<text x="368.7" y="75.7" font-size="3.8" text-anchor="end" fill="#222" stroke="#222" stroke-width="0.15">44.7</text>
<text x="312.1" y="126.19999999999999" font-size="3.8" fill="#222" stroke="#222" stroke-width="0.15">3.45</text>
<text x="368.7" y="126.19999999999999" font-size="3.8" text-anchor="end" fill="#222" stroke="#222" stroke-width="0.15">5.87</text>
<clipPath id="c8"><rect x="310.6" y="153" width="60.69999999999999" height="61.599999999999994"/></clipPath>
<g clip-path="url(#c8)">
<ellipse cx="318" cy="195" rx="8" ry="16" transform="rotate(0 318 195)" fill="#000" fill-opacity="0.26" filter="url(#b3)"/>
<ellipse cx="318.5" cy="198" rx="6" ry="9" transform="rotate(0 318.5 198)" fill="#000" fill-opacity="0.5" filter="url(#b2)"/>
<ellipse cx="319.2" cy="198.3" rx="3.6" ry="5.5" transform="rotate(0 319.2 198.3)" fill="#000" fill-opacity="0.95" filter="url(#b1)"/>
</g>
<rect x="310.6" y="153" width="60.69999999999999" height="61.599999999999994" fill="none" stroke="#c4c4c4" stroke-width="0.8"/>
<line x1="323.4" y1="153" x2="323.4" y2="214.6" stroke="#666" stroke-width="1.0"/>
<line x1="310.6" y1="200.4" x2="371.3" y2="200.4" stroke="#6a6a6a" stroke-width="1.1"/>
<line x1="309.40000000000003" y1="160.5" x2="311.40000000000003" y2="160.5" stroke="#555" stroke-width="0.8"/>
<line x1="309.40000000000003" y1="174.2" x2="311.40000000000003" y2="174.2" stroke="#555" stroke-width="0.8"/>
<line x1="309.40000000000003" y1="187.9" x2="311.40000000000003" y2="187.9" stroke="#555" stroke-width="0.8"/>
<line x1="309.40000000000003" y1="201.6" x2="311.40000000000003" y2="201.6" stroke="#555" stroke-width="0.8"/>
<line x1="312.1" y1="215.9" x2="318.1" y2="215.9" stroke="#111" stroke-width="1.9"/>
<line x1="319.6" y1="215.2" x2="319.6" y2="216.5" stroke="#888" stroke-width="0.8"/>
<line x1="322.6" y1="215.2" x2="322.6" y2="216.5" stroke="#888" stroke-width="0.8"/>
<line x1="326.1" y1="215.2" x2="326.1" y2="216.5" stroke="#888" stroke-width="0.8"/>
<line x1="329.6" y1="215.2" x2="329.6" y2="216.5" stroke="#888" stroke-width="0.8"/>
<line x1="334.6" y1="215.2" x2="334.6" y2="216.5" stroke="#888" stroke-width="0.8"/>
<line x1="339.6" y1="215.2" x2="339.6" y2="216.5" stroke="#888" stroke-width="0.8"/>
<line x1="344.6" y1="215.2" x2="344.6" y2="216.5" stroke="#888" stroke-width="0.8"/>
<line x1="350.6" y1="215.2" x2="350.6" y2="216.5" stroke="#888" stroke-width="0.8"/>
<line x1="356.6" y1="215.2" x2="356.6" y2="216.5" stroke="#888" stroke-width="0.8"/>
<line x1="362.6" y1="215.2" x2="362.6" y2="216.5" stroke="#888" stroke-width="0.8"/>
<line x1="367.6" y1="215.2" x2="367.6" y2="216.5" stroke="#888" stroke-width="0.8"/>
<text x="307.0" y="162.8" font-size="6.35" text-anchor="end" fill="#2a2a2a" stroke="#2a2a2a" stroke-width="0.04">10<tspan dy="-2.8" font-size="4.57">5</tspan></text>
<text x="307.0" y="176.60000000000002" font-size="6.35" text-anchor="end" fill="#2a2a2a" stroke="#2a2a2a" stroke-width="0.04">10<tspan dy="-2.8" font-size="4.57">4</tspan></text>
<text x="307.0" y="190.4" font-size="6.35" text-anchor="end" fill="#2a2a2a" stroke="#2a2a2a" stroke-width="0.04">10<tspan dy="-2.8" font-size="4.57">3</tspan></text>
<text x="307.0" y="204.20000000000002" font-size="6.35" text-anchor="end" fill="#2a2a2a" stroke="#2a2a2a" stroke-width="0.04">10<tspan dy="-2.8" font-size="4.57">2</tspan></text>
<text x="306.3" y="214.3" font-size="6.35" text-anchor="end" fill="#2a2a2a" stroke="#2a2a2a" stroke-width="0.04">0</text>
<text x="314.8" y="225.9" font-size="6.35" text-anchor="middle" fill="#2a2a2a" stroke="#2a2a2a" stroke-width="0.04">0</text>
<text x="325.90000000000003" y="225.9" font-size="6.35" text-anchor="middle" fill="#2a2a2a" stroke="#2a2a2a" stroke-width="0.04">10<tspan dy="-2.8" font-size="4.57">2</tspan></text>
<text x="339.1" y="225.9" font-size="6.35" text-anchor="middle" fill="#2a2a2a" stroke="#2a2a2a" stroke-width="0.04">10<tspan dy="-2.8" font-size="4.57">3</tspan></text>
<text x="352.6" y="225.9" font-size="6.35" text-anchor="middle" fill="#2a2a2a" stroke="#2a2a2a" stroke-width="0.04">10<tspan dy="-2.8" font-size="4.57">4</tspan></text>
<text x="366.20000000000005" y="225.9" font-size="6.35" text-anchor="middle" fill="#2a2a2a" stroke="#2a2a2a" stroke-width="0.04">10<tspan dy="-2.8" font-size="4.57">5</tspan></text>
<text x="312.20000000000005" y="159.2" font-size="3.8" fill="#222" stroke="#222" stroke-width="0.15">90.6</text>
<text x="369.5" y="159.2" font-size="3.8" text-anchor="end" fill="#222" stroke="#222" stroke-width="0.15">15.2</text>
<text x="312.20000000000005" y="211.6" font-size="3.8" fill="#222" stroke="#222" stroke-width="0.15">24.1</text>
<text x="369.5" y="211.6" font-size="3.8" text-anchor="end" fill="#222" stroke="#222" stroke-width="0.15">3.90</text>
<text transform="translate(25.6,100.2) rotate(-90)" font-size="11" text-anchor="middle" fill="#1a1a1a" stroke="#1a1a1a" stroke-width="0.1">WT</text>
<text transform="translate(26.4,185.0) rotate(-90)" font-size="11" text-anchor="middle" textLength="54" lengthAdjust="spacingAndGlyphs" fill="#1a1a1a" stroke="#1a1a1a" stroke-width="0.1">CCRL2 KO</text>
<text transform="translate(37.4,187.5) rotate(-90)" font-size="8.4" text-anchor="middle" textLength="56" lengthAdjust="spacingAndGlyphs" fill="#222" stroke="#222" stroke-width="0.1">CXCR2-Alexa647</text>
<line x1="35.4" y1="156" x2="35.4" y2="118.5" stroke="#111" stroke-width="1.2"/>
<polygon points="35.4,113.5 32.9,119.5 37.9,119.5" fill="#111"/>
<text x="57.3" y="235.6" font-size="8.4" textLength="35" lengthAdjust="spacingAndGlyphs" fill="#222" stroke="#222" stroke-width="0.1">CCRL2-PE</text>
<line x1="95.8" y1="232.8" x2="125.5" y2="232.8" stroke="#111" stroke-width="1.2"/>
<polygon points="130.6,232.8 124.4,230.3 124.4,235.3" fill="#111"/>
<line x1="419.8" y1="9.4" x2="419.8" y2="105.4" stroke="#111" stroke-width="1.3"/>
<line x1="419.2" y1="104.8" x2="511.2" y2="104.8" stroke="#111" stroke-width="1.3"/>
<line x1="416.4" y1="13.1" x2="419.8" y2="13.1" stroke="#111" stroke-width="1.1"/>
<text x="413" y="16.2" font-size="9.3" text-anchor="end" fill="#111" stroke="#111" stroke-width="0.3">300</text>
<line x1="416.4" y1="43.7" x2="419.8" y2="43.7" stroke="#111" stroke-width="1.1"/>
<text x="413" y="46.800000000000004" font-size="9.3" text-anchor="end" fill="#111" stroke="#111" stroke-width="0.3">200</text>
<line x1="416.4" y1="74.4" x2="419.8" y2="74.4" stroke="#111" stroke-width="1.1"/>
<text x="413" y="77.5" font-size="9.3" text-anchor="end" fill="#111" stroke="#111" stroke-width="0.3">100</text>
<line x1="416.4" y1="105" x2="419.8" y2="105" stroke="#111" stroke-width="1.1"/>
<text x="413" y="108.1" font-size="9.3" text-anchor="end" fill="#111" stroke="#111" stroke-width="0.3">0</text>
<text transform="translate(391.8,57.2) rotate(-90)" font-size="10.6" text-anchor="middle" textLength="49" lengthAdjust="spacingAndGlyphs" fill="#111" stroke="#111" stroke-width="0.3">CXCR2 MFI</text>
<line x1="427.75" y1="47.1" x2="427.75" y2="39.0" stroke="#111" stroke-width="1.2"/>
<line x1="425.65" y1="39.0" x2="429.85" y2="39.0" stroke="#111" stroke-width="1.4"/>
<rect x="424.20" y="46.60" width="7.10" height="57.60" fill="#af0129"/>
<line x1="435.35" y1="38.1" x2="435.35" y2="27.0" stroke="#111" stroke-width="1.2"/>
<line x1="433.25" y1="27.0" x2="437.45000000000005" y2="27.0" stroke="#111" stroke-width="1.4"/>
<rect x="431.30" y="37.60" width="8.10" height="66.60" fill="#2f4e80"/>
<line x1="450.54999999999995" y1="84.5" x2="450.54999999999995" y2="78.3" stroke="#111" stroke-width="1.2"/>
<line x1="448.44999999999993" y1="78.3" x2="452.65" y2="78.3" stroke="#111" stroke-width="1.4"/>
<rect x="446.70" y="84.00" width="7.70" height="20.20" fill="#af0129"/>
<line x1="458.25" y1="86.5" x2="458.25" y2="79.2" stroke="#111" stroke-width="1.2"/>
<line x1="456.15" y1="79.2" x2="460.35" y2="79.2" stroke="#111" stroke-width="1.4"/>
<rect x="454.40" y="86.00" width="7.70" height="18.20" fill="#2f4e80"/>
<line x1="473.65" y1="67.4" x2="473.65" y2="61.0" stroke="#111" stroke-width="1.2"/>
<line x1="471.54999999999995" y1="61.0" x2="475.75" y2="61.0" stroke="#111" stroke-width="1.4"/>
<rect x="469.80" y="66.90" width="7.70" height="37.30" fill="#af0129"/>
<line x1="481.35" y1="57.2" x2="481.35" y2="47.1" stroke="#111" stroke-width="1.2"/>
<line x1="479.25" y1="47.1" x2="483.45000000000005" y2="47.1" stroke="#111" stroke-width="1.4"/>
<rect x="477.50" y="56.70" width="7.70" height="47.50" fill="#2f4e80"/>
<line x1="496.75" y1="74.0" x2="496.75" y2="68.8" stroke="#111" stroke-width="1.2"/>
<line x1="494.65" y1="68.8" x2="498.85" y2="68.8" stroke="#111" stroke-width="1.4"/>
<rect x="492.90" y="73.50" width="7.70" height="30.70" fill="#af0129"/>
<line x1="504.25" y1="69.7" x2="504.25" y2="67.3" stroke="#111" stroke-width="1.2"/>
<line x1="502.15" y1="67.3" x2="506.35" y2="67.3" stroke="#111" stroke-width="1.4"/>
<rect x="500.60" y="69.20" width="7.30" height="35.00" fill="#2f4e80"/>
<text x="431.6" y="116.7" font-size="9.2" text-anchor="middle" fill="#111" stroke="#111" stroke-width="0.3">Ctr</text>
<text x="454.3" y="116.7" font-size="9.2" text-anchor="middle" fill="#111" stroke="#111" stroke-width="0.3">MIX</text>
<text x="477.4" y="116.7" font-size="9.2" text-anchor="middle" fill="#111" stroke="#111" stroke-width="0.3">LPS</text>
<text x="501.0" y="116.7" font-size="9.2" text-anchor="middle" fill="#111" stroke="#111" stroke-width="0.3">TNF</text>
<rect x="456.50" y="10.10" width="8.30" height="7.80" fill="#af0129"/>
<text x="468.2" y="16.9" font-size="8.9" fill="#111" stroke="#111" stroke-width="0.3">WT</text>
<rect x="456.50" y="23.10" width="8.30" height="7.90" fill="#2f4e80"/>
<text x="468.4" y="29.9" font-size="8.8" fill="#111" stroke="#111" stroke-width="0.3">CCRL2 KO</text>
<line x1="419.8" y1="151.3" x2="419.8" y2="247.0" stroke="#111" stroke-width="1.3"/>
<line x1="419.2" y1="246.4" x2="511.2" y2="246.4" stroke="#111" stroke-width="1.3"/>
<line x1="416.4" y1="154.3" x2="419.8" y2="154.3" stroke="#111" stroke-width="1.1"/>
<text x="413" y="157.4" font-size="9.3" text-anchor="end" fill="#111" stroke="#111" stroke-width="0.3">500</text>
<line x1="416.4" y1="172.8" x2="419.8" y2="172.8" stroke="#111" stroke-width="1.1"/>
<text x="413" y="175.9" font-size="9.3" text-anchor="end" fill="#111" stroke="#111" stroke-width="0.3">400</text>
<line x1="416.4" y1="191.2" x2="419.8" y2="191.2" stroke="#111" stroke-width="1.1"/>
<text x="413" y="194.29999999999998" font-size="9.3" text-anchor="end" fill="#111" stroke="#111" stroke-width="0.3">300</text>
<line x1="416.4" y1="209.7" x2="419.8" y2="209.7" stroke="#111" stroke-width="1.1"/>
<text x="413" y="212.79999999999998" font-size="9.3" text-anchor="end" fill="#111" stroke="#111" stroke-width="0.3">200</text>
<line x1="416.4" y1="228.1" x2="419.8" y2="228.1" stroke="#111" stroke-width="1.1"/>
<text x="413" y="231.2" font-size="9.3" text-anchor="end" fill="#111" stroke="#111" stroke-width="0.3">100</text>
<line x1="416.4" y1="246.6" x2="419.8" y2="246.6" stroke="#111" stroke-width="1.1"/>
<text x="413" y="249.7" font-size="9.3" text-anchor="end" fill="#111" stroke="#111" stroke-width="0.3">0</text>
<text transform="translate(391.8,199.0) rotate(-90)" font-size="10.6" text-anchor="middle" textLength="48.8" lengthAdjust="spacingAndGlyphs" fill="#111" stroke="#111" stroke-width="0.3">CCRL2 MFI</text>
<line x1="427.75" y1="236.7" x2="427.75" y2="233.8" stroke="#111" stroke-width="1.2"/>
<line x1="425.65" y1="233.8" x2="429.85" y2="233.8" stroke="#111" stroke-width="1.4"/>
<rect x="424.20" y="236.20" width="7.10" height="9.70" fill="#af0129"/>
<line x1="435.15" y1="237.2" x2="435.15" y2="235.2" stroke="#111" stroke-width="1.2"/>
<line x1="433.04999999999995" y1="235.2" x2="437.25" y2="235.2" stroke="#111" stroke-width="1.4"/>
<rect x="431.30" y="236.70" width="7.70" height="9.20" fill="#2f4e80"/>
<line x1="450.54999999999995" y1="171.7" x2="450.54999999999995" y2="157.7" stroke="#111" stroke-width="1.2"/>
<line x1="448.44999999999993" y1="157.7" x2="452.65" y2="157.7" stroke="#111" stroke-width="1.4"/>
<rect x="446.70" y="171.20" width="7.70" height="74.70" fill="#af0129"/>
<line x1="458.25" y1="236.1" x2="458.25" y2="231.3" stroke="#111" stroke-width="1.2"/>
<line x1="456.15" y1="231.3" x2="460.35" y2="231.3" stroke="#111" stroke-width="1.4"/>
<rect x="454.40" y="235.60" width="7.70" height="10.30" fill="#2f4e80"/>
<line x1="473.75" y1="197.2" x2="473.75" y2="186.9" stroke="#111" stroke-width="1.2"/>
<line x1="471.65" y1="186.9" x2="475.85" y2="186.9" stroke="#111" stroke-width="1.4"/>
<rect x="470.00" y="196.70" width="7.50" height="49.20" fill="#af0129"/>
<line x1="481.15" y1="236.7" x2="481.15" y2="232.7" stroke="#111" stroke-width="1.2"/>
<line x1="479.04999999999995" y1="232.7" x2="483.25" y2="232.7" stroke="#111" stroke-width="1.4"/>
<rect x="477.50" y="236.20" width="7.30" height="9.70" fill="#2f4e80"/>
<line x1="496.54999999999995" y1="229.3" x2="496.54999999999995" y2="225.6" stroke="#111" stroke-width="1.2"/>
<line x1="494.44999999999993" y1="225.6" x2="498.65" y2="225.6" stroke="#111" stroke-width="1.4"/>
<rect x="492.90" y="228.80" width="7.30" height="17.10" fill="#af0129"/>
<line x1="504.04999999999995" y1="237.2" x2="504.04999999999995" y2="234.2" stroke="#111" stroke-width="1.2"/>
<line x1="501.94999999999993" y1="234.2" x2="506.15" y2="234.2" stroke="#111" stroke-width="1.4"/>
<rect x="500.20" y="236.70" width="7.70" height="9.20" fill="#2f4e80"/>
<text x="431.6" y="257.9" font-size="9.2" text-anchor="middle" fill="#111" stroke="#111" stroke-width="0.3">Ctr</text>
<text x="454.3" y="257.9" font-size="9.2" text-anchor="middle" fill="#111" stroke="#111" stroke-width="0.3">MIX</text>
<text x="477.4" y="257.9" font-size="9.2" text-anchor="middle" fill="#111" stroke="#111" stroke-width="0.3">LPS</text>
<text x="501.0" y="257.9" font-size="9.2" text-anchor="middle" fill="#111" stroke="#111" stroke-width="0.3">TNF</text>
<polyline points="427.0,154.8 427.0,152.4 449.8,152.4 449.8,154.8" fill="none" stroke="#111" stroke-width="1.1"/>
<text x="438.3" y="151.5" font-size="8.2" text-anchor="middle" fill="#111" stroke="#111" stroke-width="0.3">*</text>
<polyline points="427.0,145.6 427.0,143.2 469.5,143.2 469.5,145.6" fill="none" stroke="#111" stroke-width="1.1"/>
<text x="448.3" y="142.0" font-size="8.2" text-anchor="middle" fill="#111" stroke="#111" stroke-width="0.3">*</text>
<text x="8.6" y="266" font-size="13" font-weight="bold" fill="#111">B</text>
<line x1="46.1" y1="266.9" x2="46.1" y2="423.4" stroke="#111" stroke-width="1.3"/>
<line x1="45.5" y1="422.8" x2="169.8" y2="422.8" stroke="#111" stroke-width="1.3"/>
<line x1="42.6" y1="270.3" x2="46.1" y2="270.3" stroke="#111" stroke-width="1.1"/>
<text x="39.4" y="273.5" font-size="9.2" text-anchor="end" fill="#111" stroke="#111" stroke-width="0.3">4</text>
<line x1="42.6" y1="308.6" x2="46.1" y2="308.6" stroke="#111" stroke-width="1.1"/>
<text x="39.4" y="311.8" font-size="9.2" text-anchor="end" fill="#111" stroke="#111" stroke-width="0.3">3</text>
<line x1="42.6" y1="346.8" x2="46.1" y2="346.8" stroke="#111" stroke-width="1.1"/>
<text x="39.4" y="350.0" font-size="9.2" text-anchor="end" fill="#111" stroke="#111" stroke-width="0.3">2</text>
<line x1="42.6" y1="385.1" x2="46.1" y2="385.1" stroke="#111" stroke-width="1.1"/>
<text x="39.4" y="388.3" font-size="9.2" text-anchor="end" fill="#111" stroke="#111" stroke-width="0.3">1</text>
<line x1="42.6" y1="423.0" x2="46.1" y2="423.0" stroke="#111" stroke-width="1.1"/>
<text x="39.4" y="426.2" font-size="9.2" text-anchor="end" fill="#111" stroke="#111" stroke-width="0.3">0</text>
<text transform="translate(27.6,344.0) rotate(-90)" font-size="10.4" text-anchor="middle" textLength="116" lengthAdjust="spacingAndGlyphs" fill="#111" stroke="#111" stroke-width="0.3">CD11b<tspan dy="-2.8" font-size="7">+</tspan><tspan dy="2.8">Ly6G</tspan><tspan dy="-2.8" font-size="7">+</tspan><tspan dy="2.8"> cellsx10</tspan><tspan dy="-2.8" font-size="7">5</tspan><tspan dy="2.8">/ml</tspan></text>
<line x1="67.55000000000001" y1="408.6" x2="67.55000000000001" y2="397.9" stroke="#111" stroke-width="1.2"/>
<line x1="62.45000000000001" y1="397.9" x2="72.65" y2="397.9" stroke="#111" stroke-width="1.4"/>
<rect x="57.20" y="408.10" width="20.70" height="14.20" fill="#af0129"/>
<line x1="88.2" y1="408.6" x2="88.2" y2="397.9" stroke="#111" stroke-width="1.2"/>
<line x1="83.10000000000001" y1="397.9" x2="93.3" y2="397.9" stroke="#111" stroke-width="1.4"/>
<rect x="77.90" y="408.10" width="20.60" height="14.20" fill="#2f4e80"/>
<line x1="123.4" y1="354.7" x2="123.4" y2="340.8" stroke="#111" stroke-width="1.2"/>
<line x1="118.30000000000001" y1="340.8" x2="128.5" y2="340.8" stroke="#111" stroke-width="1.4"/>
<rect x="113.00" y="354.20" width="20.80" height="68.10" fill="#af0129"/>
<line x1="144.15" y1="397.3" x2="144.15" y2="390.5" stroke="#111" stroke-width="1.2"/>
<line x1="139.05" y1="390.5" x2="149.25" y2="390.5" stroke="#111" stroke-width="1.4"/>
<rect x="133.80" y="396.80" width="20.70" height="25.50" fill="#2f4e80"/>
<text x="77.2" y="435.0" font-size="9" text-anchor="middle" fill="#111" stroke="#111" stroke-width="0.3">saline</text>
<text x="133.6" y="435.0" font-size="9" text-anchor="middle" fill="#111" stroke="#111" stroke-width="0.3">LPS</text>
<rect x="57.00" y="269.00" width="8.50" height="8.60" fill="#af0129"/>
<text x="69.4" y="276.6" font-size="9" fill="#111" stroke="#111" stroke-width="0.3">WT</text>
<rect x="57.00" y="286.00" width="8.50" height="8.60" fill="#2f4e80"/>
<text x="69.4" y="293.4" font-size="9" fill="#111" stroke="#111" stroke-width="0.3">CCRL2 KO</text>
<polyline points="67.6,328.2 67.6,323.8 121.6,323.8 121.6,328.2" fill="none" stroke="#111" stroke-width="1.1"/>
<text x="94.0" y="323.0" font-size="8.2" text-anchor="middle" fill="#111" stroke="#111" stroke-width="0.3">*</text>
<polyline points="124.2,328.2 124.2,323.8 145.2,323.8 145.2,328.2" fill="none" stroke="#111" stroke-width="1.1"/>
<text x="134.6" y="323.0" font-size="8.2" text-anchor="middle" fill="#111" stroke="#111" stroke-width="0.3">*</text>
<line x1="233.5" y1="265.4" x2="233.5" y2="423.4" stroke="#111" stroke-width="1.3"/>
<line x1="232.9" y1="422.8" x2="358.0" y2="422.8" stroke="#111" stroke-width="1.3"/>
<line x1="230.2" y1="268.7" x2="233.5" y2="268.7" stroke="#111" stroke-width="1.1"/>
<text x="226.2" y="272.0" font-size="9.4" text-anchor="end" fill="#111" stroke="#111" stroke-width="0.3">40</text>
<line x1="230.2" y1="307.3" x2="233.5" y2="307.3" stroke="#111" stroke-width="1.1"/>
<text x="226.2" y="310.6" font-size="9.4" text-anchor="end" fill="#111" stroke="#111" stroke-width="0.3">30</text>
<line x1="230.2" y1="345.7" x2="233.5" y2="345.7" stroke="#111" stroke-width="1.1"/>
<text x="226.2" y="349.0" font-size="9.4" text-anchor="end" fill="#111" stroke="#111" stroke-width="0.3">20</text>
<line x1="230.2" y1="384.5" x2="233.5" y2="384.5" stroke="#111" stroke-width="1.1"/>
<text x="226.2" y="387.8" font-size="9.4" text-anchor="end" fill="#111" stroke="#111" stroke-width="0.3">10</text>
<line x1="230.2" y1="422.7" x2="233.5" y2="422.7" stroke="#111" stroke-width="1.1"/>
<text x="226.2" y="426.0" font-size="9.4" text-anchor="end" fill="#111" stroke="#111" stroke-width="0.3">0</text>
<text transform="translate(209.6,344.0) rotate(-90)" font-size="10.5" text-anchor="middle" textLength="48.6" lengthAdjust="spacingAndGlyphs" fill="#111" stroke="#111" stroke-width="0.3">CCRL2 MFI</text>
<line x1="266.6" y1="408.7" x2="266.6" y2="405.8" stroke="#111" stroke-width="1.2"/>
<line x1="258.8" y1="405.8" x2="274.40000000000003" y2="405.8" stroke="#111" stroke-width="1.4"/>
<rect x="251.10" y="408.20" width="31.00" height="14.10" fill="#6aab3b"/>
<line x1="318.95" y1="307.6" x2="318.95" y2="295.6" stroke="#111" stroke-width="1.2"/>
<line x1="311.3" y1="295.6" x2="326.59999999999997" y2="295.6" stroke="#111" stroke-width="1.4"/>
<rect x="303.50" y="307.10" width="30.90" height="115.20" fill="#58226b"/>
<text x="266.7" y="434.7" font-size="9" text-anchor="middle" fill="#111" stroke="#111" stroke-width="0.3">saline</text>
<text x="318.8" y="434.7" font-size="9" text-anchor="middle" fill="#111" stroke="#111" stroke-width="0.3">LPS</text>
<polyline points="267.8,285.6 267.8,281.2 318.6,281.2 318.6,285.6" fill="none" stroke="#111" stroke-width="1.1"/>
<text x="293.3" y="281.0" font-size="8.2" text-anchor="middle" fill="#111" stroke="#111" stroke-width="0.3">*</text>
<text x="8.6" y="466" font-size="13" font-weight="bold" fill="#111">C</text>
<line x1="45.8" y1="505.0" x2="45.8" y2="662.3" stroke="#111" stroke-width="1.3"/>
<line x1="45.199999999999996" y1="661.8" x2="174.0" y2="661.8" stroke="#111" stroke-width="1.3"/>
<line x1="42.3" y1="508.0" x2="45.8" y2="508.0" stroke="#111" stroke-width="1.1"/>
<text x="39.1" y="511.2" font-size="9.2" text-anchor="end" fill="#111" stroke="#111" stroke-width="0.3">4</text>
<line x1="42.3" y1="546.5" x2="45.8" y2="546.5" stroke="#111" stroke-width="1.1"/>
<text x="39.1" y="549.7" font-size="9.2" text-anchor="end" fill="#111" stroke="#111" stroke-width="0.3">3</text>
<line x1="42.3" y1="584.7" x2="45.8" y2="584.7" stroke="#111" stroke-width="1.1"/>
<text x="39.1" y="587.9000000000001" font-size="9.2" text-anchor="end" fill="#111" stroke="#111" stroke-width="0.3">2</text>
<line x1="42.3" y1="623.2" x2="45.8" y2="623.2" stroke="#111" stroke-width="1.1"/>
<text x="39.1" y="626.4000000000001" font-size="9.2" text-anchor="end" fill="#111" stroke="#111" stroke-width="0.3">1</text>
<line x1="42.3" y1="661.7" x2="45.8" y2="661.7" stroke="#111" stroke-width="1.1"/>
<text x="39.1" y="664.9000000000001" font-size="9.2" text-anchor="end" fill="#111" stroke="#111" stroke-width="0.3">0</text>
<text transform="translate(27.6,582.2) rotate(-90)" font-size="10.4" text-anchor="middle" textLength="116" lengthAdjust="spacingAndGlyphs" fill="#111" stroke="#111" stroke-width="0.3">CD11b<tspan dy="-2.8" font-size="7">+</tspan><tspan dy="2.8">Ly6G</tspan><tspan dy="-2.8" font-size="7">+</tspan><tspan dy="2.8"> cellsx10</tspan><tspan dy="-2.8" font-size="7">5</tspan><tspan dy="2.8">/ml</tspan></text>
<line x1="75.05" y1="625.5" x2="75.05" y2="612.6" stroke="#111" stroke-width="1.2"/>
<line x1="69.95" y1="612.6" x2="80.14999999999999" y2="612.6" stroke="#111" stroke-width="1.4"/>
<rect x="64.50" y="625.00" width="21.10" height="36.30" fill="#af0129"/>
<line x1="96.15" y1="646.4" x2="96.15" y2="639.1" stroke="#111" stroke-width="1.2"/>
<line x1="91.05000000000001" y1="639.1" x2="101.25" y2="639.1" stroke="#111" stroke-width="1.4"/>
<rect x="85.60" y="645.90" width="21.10" height="15.40" fill="#2f4e80"/>
<line x1="131.7" y1="551.7" x2="131.7" y2="535.2" stroke="#111" stroke-width="1.2"/>
<line x1="126.6" y1="535.2" x2="136.79999999999998" y2="535.2" stroke="#111" stroke-width="1.4"/>
<rect x="121.30" y="551.20" width="20.80" height="110.10" fill="#af0129"/>
<line x1="152.64999999999998" y1="603.1" x2="152.64999999999998" y2="589.8" stroke="#111" stroke-width="1.2"/>
<line x1="147.54999999999998" y1="589.8" x2="157.74999999999997" y2="589.8" stroke="#111" stroke-width="1.4"/>
<rect x="142.10" y="602.60" width="21.10" height="58.70" fill="#2f4e80"/>
<text x="85.6" y="674.0" font-size="9" text-anchor="middle" fill="#111" stroke="#111" stroke-width="0.3">saline</text>
<text x="142.2" y="674.0" font-size="9" text-anchor="middle" fill="#111" stroke="#111" stroke-width="0.3">CXCL8</text>
<rect x="58.80" y="468.20" width="8.50" height="9.00" fill="#af0129"/>
<text x="70.6" y="476.0" font-size="9" fill="#111" stroke="#111" stroke-width="0.3">WT</text>
<rect x="58.80" y="485.40" width="8.50" height="8.80" fill="#2f4e80"/>
<text x="70.6" y="492.8" font-size="9" fill="#111" stroke="#111" stroke-width="0.3">CCRL2 KO</text>
<polyline points="81.3,512.0 81.3,507.7 125.5,507.7 125.5,512.0" fill="none" stroke="#111" stroke-width="1.1"/>
<text x="103.8" y="506.8" font-size="8.2" text-anchor="middle" fill="#111" stroke="#111" stroke-width="0.3">*</text>
<polyline points="132.0,512.0 132.0,507.7 153.0,507.7 153.0,512.0" fill="none" stroke="#111" stroke-width="1.1"/>
<text x="142.5" y="506.8" font-size="8.2" text-anchor="middle" fill="#111" stroke="#111" stroke-width="0.3">*</text>
<polyline points="95.5,533.8 95.5,529.6 160.5,529.6 160.5,533.8" fill="none" stroke="#111" stroke-width="1.1"/>
<text x="128.4" y="527.3" font-size="9" text-anchor="middle" fill="#111" stroke="#111" stroke-width="0.3">ns</text>
<text x="192.0" y="466.2" font-size="13" font-weight="bold" fill="#111">D</text>
<line x1="233.1" y1="504.2" x2="233.1" y2="662.4" stroke="#111" stroke-width="1.3"/>
<line x1="232.5" y1="661.9" x2="428.5" y2="661.9" stroke="#111" stroke-width="1.3"/>
<line x1="230.0" y1="507.1" x2="233.1" y2="507.1" stroke="#111" stroke-width="1.1"/>
<text x="226.6" y="510.20000000000005" font-size="8.8" text-anchor="end" fill="#111" stroke="#111" stroke-width="0.3">15</text>
<line x1="230.0" y1="558.7" x2="233.1" y2="558.7" stroke="#111" stroke-width="1.1"/>
<text x="226.6" y="561.8000000000001" font-size="8.8" text-anchor="end" fill="#111" stroke="#111" stroke-width="0.3">10</text>
<line x1="230.0" y1="610.4" x2="233.1" y2="610.4" stroke="#111" stroke-width="1.1"/>
<text x="226.6" y="613.5" font-size="8.8" text-anchor="end" fill="#111" stroke="#111" stroke-width="0.3">5</text>
<line x1="230.0" y1="662.0" x2="233.1" y2="662.0" stroke="#111" stroke-width="1.1"/>
<text x="226.6" y="665.1" font-size="8.8" text-anchor="end" fill="#111" stroke="#111" stroke-width="0.3">0</text>
<text transform="translate(208.7,582.8) rotate(-90)" font-size="9.3" text-anchor="middle" textLength="111" lengthAdjust="spacingAndGlyphs" fill="#111" stroke="#111" stroke-width="0.3">Cells x10<tspan dy="-3" font-size="6.2">3</tspan><tspan dy="3">/synovial cavity</tspan></text>
<line x1="261.1" y1="651.8" x2="261.1" y2="649.3" stroke="#111" stroke-width="1.2"/>
<line x1="256.0" y1="649.3" x2="266.20000000000005" y2="649.3" stroke="#111" stroke-width="1.4"/>
<rect x="250.20" y="651.30" width="21.80" height="10.10" fill="#af0129"/>
<line x1="283.1" y1="648.7" x2="283.1" y2="645.3" stroke="#111" stroke-width="1.2"/>
<line x1="278.0" y1="645.3" x2="288.20000000000005" y2="645.3" stroke="#111" stroke-width="1.4"/>
<rect x="272.00" y="648.20" width="22.20" height="13.20" fill="#2f4e80"/>
<line x1="321.85" y1="621.1" x2="321.85" y2="617.8" stroke="#111" stroke-width="1.2"/>
<line x1="316.75" y1="617.8" x2="326.95000000000005" y2="617.8" stroke="#111" stroke-width="1.4"/>
<rect x="310.70" y="620.60" width="22.30" height="40.80" fill="#af0129"/>
<line x1="344.0" y1="636.6" x2="344.0" y2="633.8" stroke="#111" stroke-width="1.2"/>
<line x1="338.9" y1="633.8" x2="349.1" y2="633.8" stroke="#111" stroke-width="1.4"/>
<rect x="333.00" y="636.10" width="22.00" height="25.30" fill="#2f4e80"/>
<line x1="382.9" y1="549.9" x2="382.9" y2="542.8" stroke="#111" stroke-width="1.2"/>
<line x1="377.79999999999995" y1="542.8" x2="388.0" y2="542.8" stroke="#111" stroke-width="1.4"/>
<rect x="372.20" y="549.40" width="21.40" height="112.00" fill="#af0129"/>
<line x1="404.70000000000005" y1="616.1" x2="404.70000000000005" y2="612.6" stroke="#111" stroke-width="1.2"/>
<line x1="399.6" y1="612.6" x2="409.80000000000007" y2="612.6" stroke="#111" stroke-width="1.4"/>
<rect x="393.60" y="615.60" width="22.20" height="45.80" fill="#2f4e80"/>
<text x="272.4" y="674.0" font-size="9" text-anchor="middle" fill="#111" stroke="#111" stroke-width="0.3">saline</text>
<text x="332.9" y="674.0" font-size="9" text-anchor="middle" fill="#111" stroke="#111" stroke-width="0.3">6hrs</text>
<text x="393.5" y="674.0" font-size="9" text-anchor="middle" fill="#111" stroke="#111" stroke-width="0.3">24hrs</text>
<line x1="318.0" y1="679.1" x2="410.8" y2="679.1" stroke="#111" stroke-width="1.1"/>
<text x="364.5" y="691.0" font-size="9" text-anchor="middle" fill="#111" stroke="#111" stroke-width="0.3">metBSA</text>
<rect x="245.50" y="468.80" width="8.80" height="8.30" fill="#af0129"/>
<text x="257.2" y="476.3" font-size="9" fill="#111" stroke="#111" stroke-width="0.3">WT</text>
<rect x="245.50" y="485.50" width="8.80" height="8.80" fill="#2f4e80"/>
<text x="257.2" y="492.8" font-size="9" fill="#111" stroke="#111" stroke-width="0.3">CCRL2 KO</text>
<polyline points="320.8,606.2 320.8,601.6 343.6,601.6 343.6,606.2" fill="none" stroke="#111" stroke-width="1.1"/>
<text x="332.3" y="601.0" font-size="8.2" text-anchor="middle" fill="#111" stroke="#111" stroke-width="0.3">*</text>
<polyline points="383.8,527.2 383.8,522.6 405.8,522.6 405.8,527.2" fill="none" stroke="#111" stroke-width="1.1"/>
<text x="394.8" y="522.0" font-size="8.2" text-anchor="middle" fill="#111" stroke="#111" stroke-width="0.3">**</text>
<rect x="0.00" y="0.00" width="1.70" height="701.00" fill="#000"/>
<rect x="0.00" y="0.00" width="520.00" height="1.60" fill="#000"/>
<rect x="518.10" y="0.00" width="1.90" height="701.00" fill="#000"/>
<rect x="0.00" y="699.00" width="520.00" height="2.00" fill="#000"/>
</svg></body></html>
